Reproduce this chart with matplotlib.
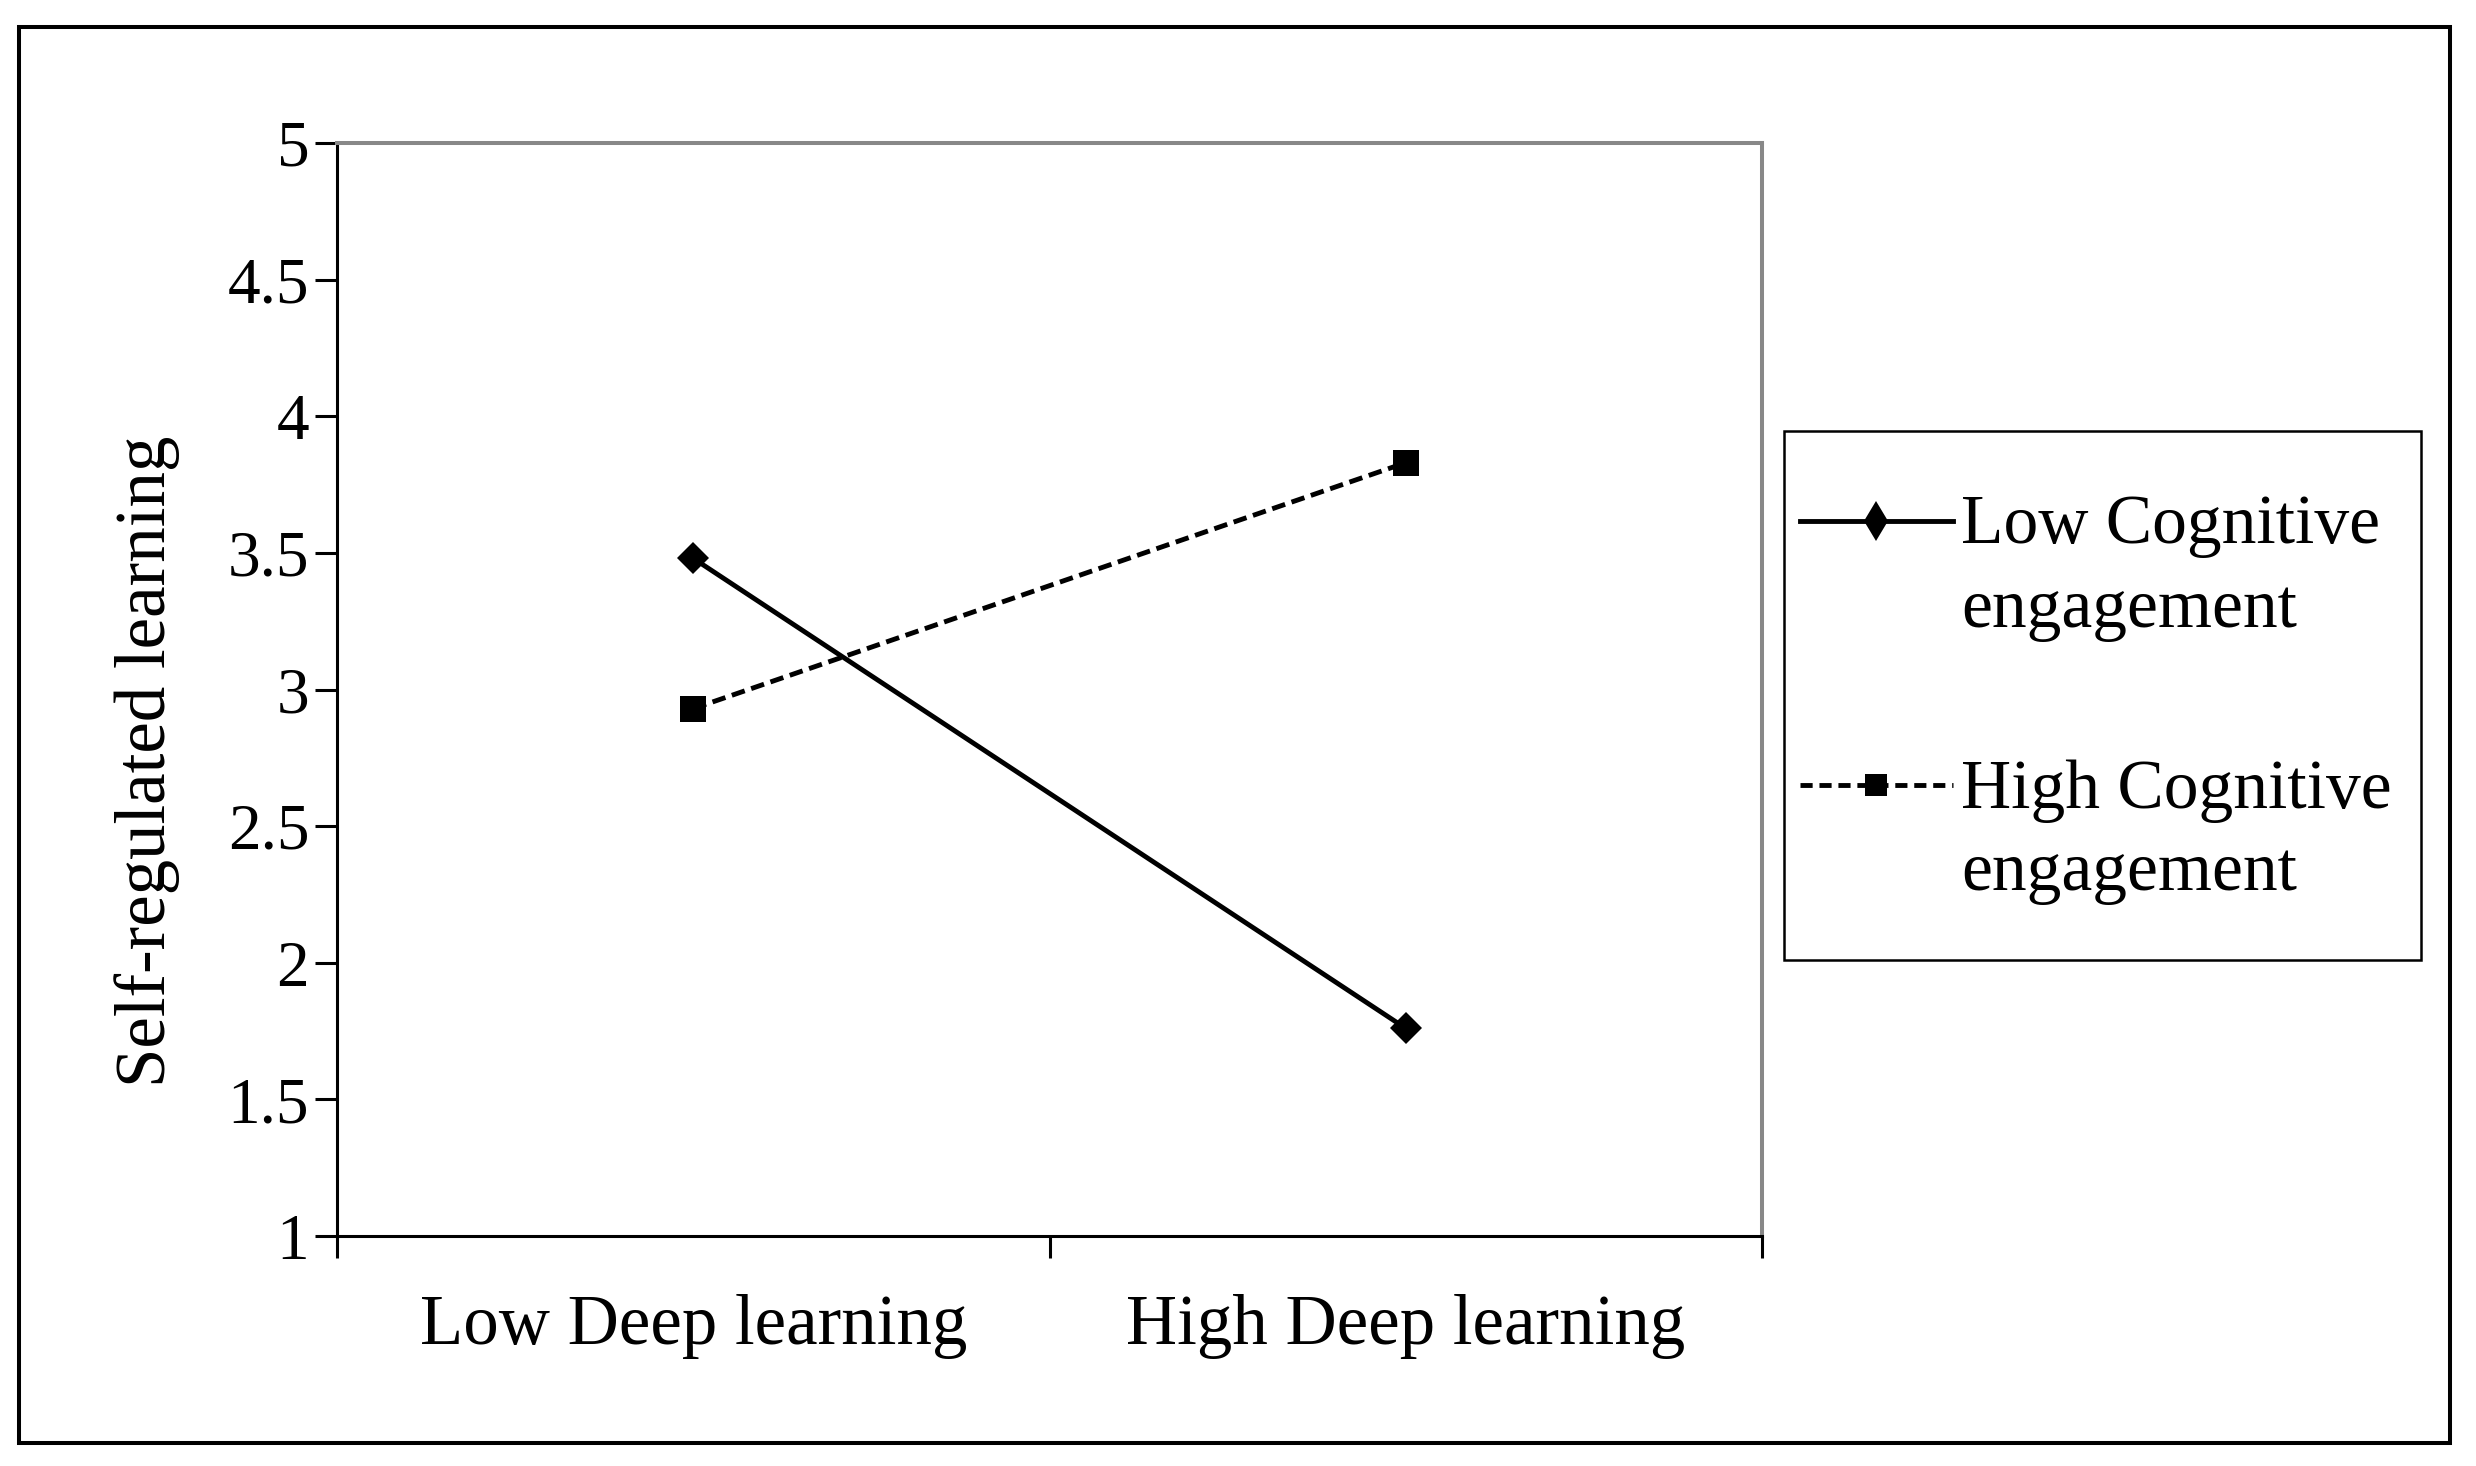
import numpy as np
import matplotlib
matplotlib.use("Agg")
import matplotlib.pyplot as plt
from matplotlib.lines import Line2D
from matplotlib.patches import Rectangle

plt.rcParams['font.family'] = ['Liberation Serif', 'DejaVu Serif']

# data
categories = ["Low Deep learning", "High Deep learning"]
low_cog = [3.48, 1.76]
high_cog = [2.93, 3.83]
series_labels = ["Low Cognitive\nengagement", "High Cognitive\nengagement"]
y_ticks = [1, 1.5, 2, 2.5, 3, 3.5, 4, 4.5, 5]
y_ticklabels = ["1", "1.5", "2", "2.5", "3", "3.5", "4", "4.5", "5"]

W, H = 2476, 1466
fig = plt.figure(figsize=(W / 100, H / 100), dpi=100)

def fx(px):
    return px / W

def fy(py):
    return 1 - py / H

# axes placed by pixel edges of the reference
ax = fig.add_axes([fx(337), fy(1236), fx(1762) - fx(337), fy(143) - fy(1236)])

x = np.arange(len(categories))
ax.plot(x, low_cog, color='black', lw=3.5, marker='D', ms=16, mew=0)
ax.plot(x, high_cog, color='black', lw=3.5, ls=(0, (2.8, 1.4)), marker='s', ms=19, mew=0)

ax.set_xlim(-0.5, 1.5)
ax.set_ylim(1, 5)
ax.set_yticks(y_ticks)
ax.set_yticklabels(y_ticklabels, fontsize=47)
ax.set_xticks([-0.5, 0.5, 1.5])
ax.set_xticklabels([])
ax.set_xticks(x, minor=True)
ax.set_xticklabels(categories, minor=True, fontsize=51)
ax.tick_params(axis='x', which='minor', length=0, pad=42)
ax.tick_params(axis='x', which='major', length=16, width=2.2, direction='out')
ax.tick_params(axis='y', length=16, width=2.2, direction='out', pad=4)

for s in ['left', 'bottom']:
    ax.spines[s].set_color('black')
    ax.spines[s].set_linewidth(2.2)
for s in ['top', 'right']:
    ax.spines[s].set_color('#888888')
    ax.spines[s].set_linewidth(2.9)

fig.text(fx(147), fy(761), "Self-regulated learning", rotation=90,
         ha='center', va='center', fontsize=51)

# legend box drawn by hand to match the layout
fig.add_artist(Rectangle((fx(1784), fy(960)), fx(2421) - fx(1784), fy(431) - fy(960),
                         transform=fig.transFigure, fill=False, ec='black', lw=1.8))
leg_rows = [(521, 526, 610), (785, 791, 873)]
styles = [dict(ls='-', marker='d', ms=20), dict(ls=(0, (2.5, 1.4)), marker='s', ms=16)]
for (ly, t1, t2), st, lab in zip(leg_rows, styles, series_labels):
    fig.add_artist(Line2D([fx(1800), fx(1953)], [fy(ly), fy(ly)], transform=fig.transFigure,
                          color='black', lw=3.5, ls=st['ls']))
    fig.add_artist(Line2D([fx(1876)], [fy(ly)], transform=fig.transFigure, color='black',
                          marker=st['marker'], ms=st['ms'], mew=0, ls='none'))
    line1, line2 = lab.split("\n")
    fig.text(fx(1961), fy(t1), line1, ha='left', va='center', fontsize=50)
    fig.text(fx(1961), fy(t2), line2, ha='left', va='center', fontsize=50)

# outer frame
fig.add_artist(Rectangle((fx(19), fy(1443)), fx(2450) - fx(19), fy(27) - fy(1443),
                         transform=fig.transFigure, fill=False, ec='black', lw=2.9))

plt.savefig('out.png', dpi=100)
